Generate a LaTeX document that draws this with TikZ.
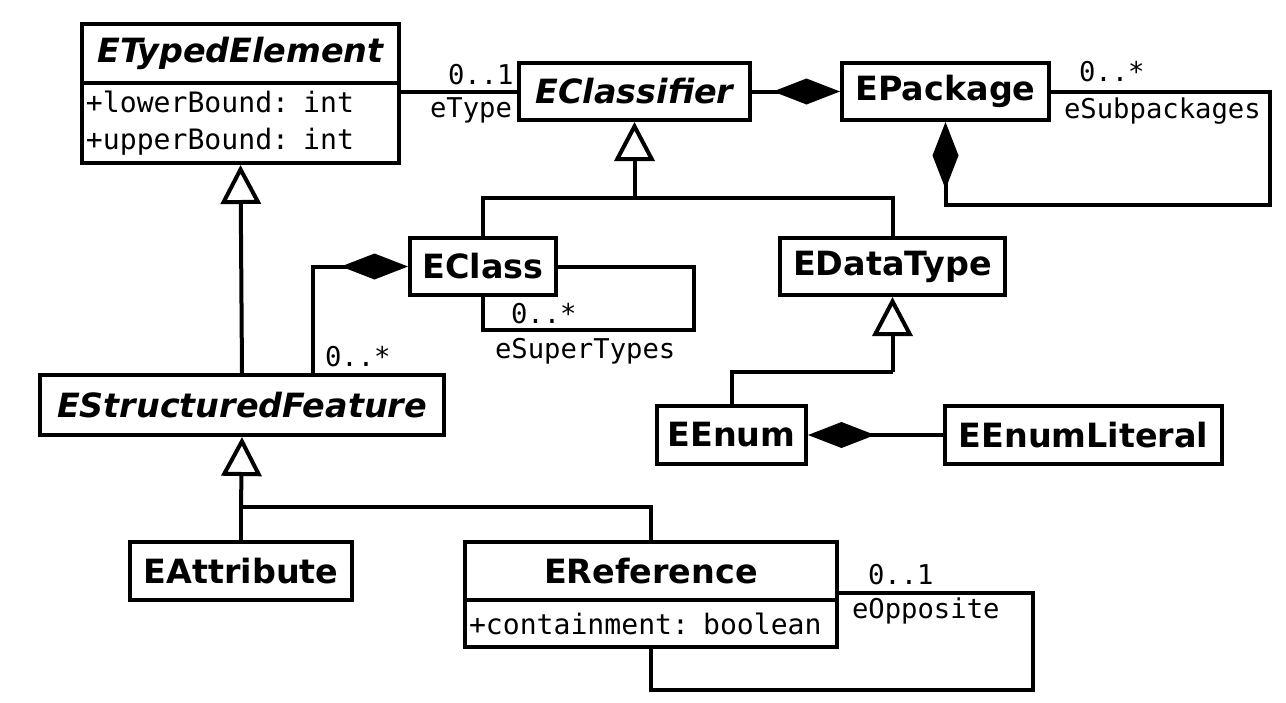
\documentclass[tikz,border=0pt]{standalone}
\usepackage{fontspec}
\setsansfont{DejaVu Sans}
\setmonofont{DejaVu Sans Mono}
\usetikzlibrary{arrows.meta}
\usetikzlibrary{positioning}

\begin{document}
\begin{tikzpicture}[x=0.2mm, y=-0.2mm, line width=0.8mm]
        \tikzset{
          class/.style={
            draw,
            inner sep = 0pt,
            minimum height = 11.4mm,
            font=\fontsize{19}{23}\selectfont\sffamily\bfseries,
          },
          abstract/.style={
            class,
            font=\fontsize{19}{23}\selectfont\sffamily\bfseries\itshape,
          },
          attrs/.style={
            draw,
            inner sep = 0.8mm,
            align=left,
            font=\fontsize{16}{21}\selectfont\ttfamily,
          },
          mult/.style={
            anchor=base west,
            inner sep = 0pt,
            font=\fontsize{15.5}{20}\selectfont\ttfamily,
          },
          gen/.style={-{Triangle[open, length=7.8mm, width=8mm]}},
          comp/.style={-{Diamond[length=13.4mm, width=5.2mm]}},
        }
        \fill[white] (0,0) rectangle (1286,702);
        \useasboundingbox (0,0) rectangle (1286,702);

        \node[abstract, minimum width=63.4mm, minimum height=11.8mm] (typedname) at (240.5,53.5) {ETypedElement};
        \node[attrs, below=-0.8mm of typedname, minimum width=63.4mm, minimum height=16mm, text width=61.8mm] (typedattr) {+lowerBound: int\\+upperBound: int};
        \node[abstract, minimum width=46.2mm] (classifier) at (634.5,91.5) {EClassifier};
        \node[class, minimum width=41.4mm] (package) at (945.5,91.5) {EPackage};
        \node[class, minimum width=29.2mm] (eclass) at (483,266.5) {EClass};
        \node[class, minimum width=45mm] (datatype) at (892.5,266.5) {EDataType};
        \node[abstract, minimum width=80.8mm, minimum height=12mm] (feature) at (242,405) {EStructuredFeature};
        \node[class, minimum width=29.8mm, minimum height=11.6mm] (enum) at (731.5,435) {EEnum};
        \node[class, minimum width=55.4mm, minimum height=11.6mm] (literal) at (1083.5,435) {EEnumLiteral};
        \node[class, minimum width=44.4mm, minimum height=11.6mm] (attribute) at (241,571) {EAttribute};
        \node[class, minimum width=74.4mm, minimum height=11.6mm] (refname) at (651,571) {EReference};
        \node[attrs, below=-0.8mm of refname, minimum width=74.4mm, minimum height=9.4mm, text width=72.8mm] (refattr) {+containment: boolean};

        \coordinate (clsgen) at (634.5,198);
        \coordinate (dtgen) at (892.5,372);
        \coordinate (featgen) at (241,507);
        \coordinate (subloop) at (1270,205);
        \coordinate (superloop) at (694,330);
        \coordinate (oppositeloop) at (1033,690);

        \draw (classifier.west) -- (classifier.west -| typedattr.east);
        \draw[comp] (classifier.east) -- (package.west);
        \draw[comp] (package.east) -| (subloop) -| (package.south);
        \draw[gen] (feature.north) -- (typedattr.south);
        \draw (eclass.north) |- (clsgen) -| (datatype.north);
        \draw[gen] (clsgen) -- (classifier.south);
        \draw (eclass.east) -| (superloop) -| (eclass.south);
        \draw[comp] ([xshift=55mm]feature.north west) |- (eclass.west);
        \draw (enum.north) |- (dtgen);
        \draw[gen] (dtgen) -- (datatype.south);
        \draw[comp] (literal.west) -- (enum.east);
        \draw (attribute.north) -- (featgen) -| (refname.north);
        \draw[gen] (featgen) -- (feature.south);
        \draw ([yshift=1.8mm]refname.south east) -| (oppositeloop) -| (refattr.south);

        \node[mult] (etypemult) at (446,84) {0..1};
        \node[mult] (etyperole) at (428,117) {eType};
        \node[mult] (submult) at (1077,81) {0..*};
        \node[mult] (subrole) at (1062,118) {eSubpackages};
        \node[mult] (supermult) at (509,323) {0..*};
        \node[mult] (superrole) at (493,358) {eSuperTypes};
        \node[mult] (featmult) at (323,366) {0..*};
        \node[mult] (oppmult) at (866,584) {0..1};
        \node[mult] (opprole) at (850,618) {eOpposite};
      \end{tikzpicture}
\end{document}
